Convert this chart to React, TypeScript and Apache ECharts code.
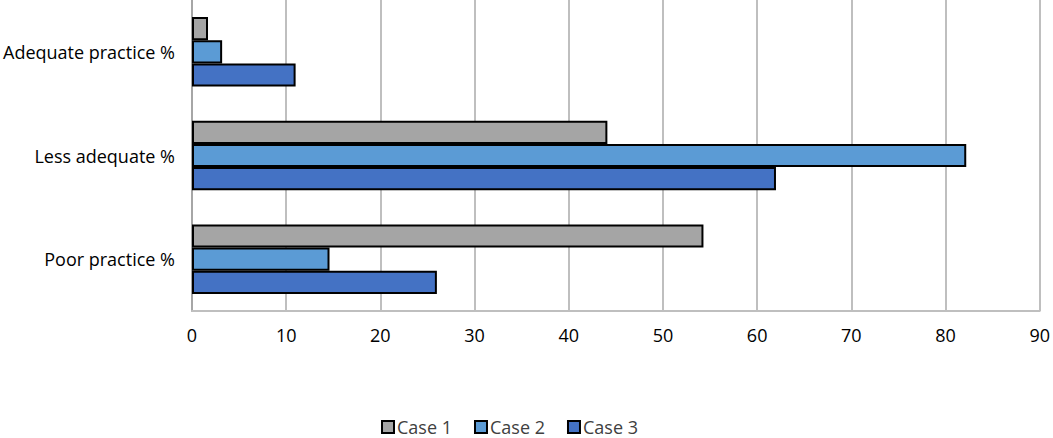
import React, { useEffect, useRef } from "react";
import * as echarts from "echarts";

const categories = ["Poor practice %", "Less adequate %", "Adequate practice %"];
const seriesNames = ["Case 1", "Case 2", "Case 3"];
const case1 = [54.3, 44.1, 1.7];
const case2 = [14.6, 82.2, 3.2];
const case3 = [26.0, 62.0, 11.0];
const xTicks = [0, 10, 20, 30, 40, 50, 60, 70, 80, 90];
const colors = ["#A5A5A5", "#5B9BD5", "#4472C4"];

export default function App() {
  const ref = useRef<HTMLDivElement>(null);
  useEffect(() => {
    if (!ref.current) return;
    const chart = echarts.init(ref.current, undefined, { renderer: "svg" });
    const font = "'Open Sans', 'Noto Sans', sans-serif";
    const data = [case1, case2, case3];
    chart.setOption({
      animation: false,
      textStyle: { fontFamily: font },
      grid: { left: 187, right: 9, top: 0, bottom: 127, containLabel: false },
      legend: {
        bottom: 2,
        left: 381,
        padding: 0,
        itemWidth: 12,
        itemHeight: 12,
        itemGap: 22,
        icon: "rect",
        itemStyle: { borderColor: "#000", borderWidth: 2 },
        textStyle: {
          fontSize: 18,
          lineHeight: 18,
          color: "#404040",
          fontFamily: font,
          padding: [0, 0, 0, -2],
        },
        data: seriesNames,
      },
      xAxis: {
        type: "value",
        min: 0,
        max: 90,
        interval: 10,
        axisLine: { show: true, lineStyle: { color: "#BFBFBF", width: 2 } },
        axisTick: { show: false },
        splitLine: { show: true, lineStyle: { color: "#BFBFBF", width: 2 } },
        axisLabel: {
          fontSize: 18,
          color: "#000",
          margin: 15,
          fontFamily: font,
          formatter: (v: number) => (xTicks.includes(v) ? String(v) : ""),
        },
      },
      yAxis: {
        type: "category",
        data: categories,
        axisLine: { show: true, lineStyle: { color: "#A6A6A6", width: 2 } },
        axisTick: { show: false },
        axisLabel: { fontSize: 18, color: "#000", margin: 17, fontFamily: font },
      },
      series: [0, 1, 2].map((i) => ({
        name: seriesNames[i],
        type: "bar",
        data: data[i],
        barGap: "0%",
        barCategoryGap: "33%",
        itemStyle: { color: colors[i], borderColor: "#000", borderWidth: 2 },
      })),
    });
    return () => chart.dispose();
  }, []);
  return (
    <div
      ref={ref}
      style={{ position: "fixed", left: 0, top: 0, width: 1053, height: 438, background: "#fff" }}
    />
  );
}
